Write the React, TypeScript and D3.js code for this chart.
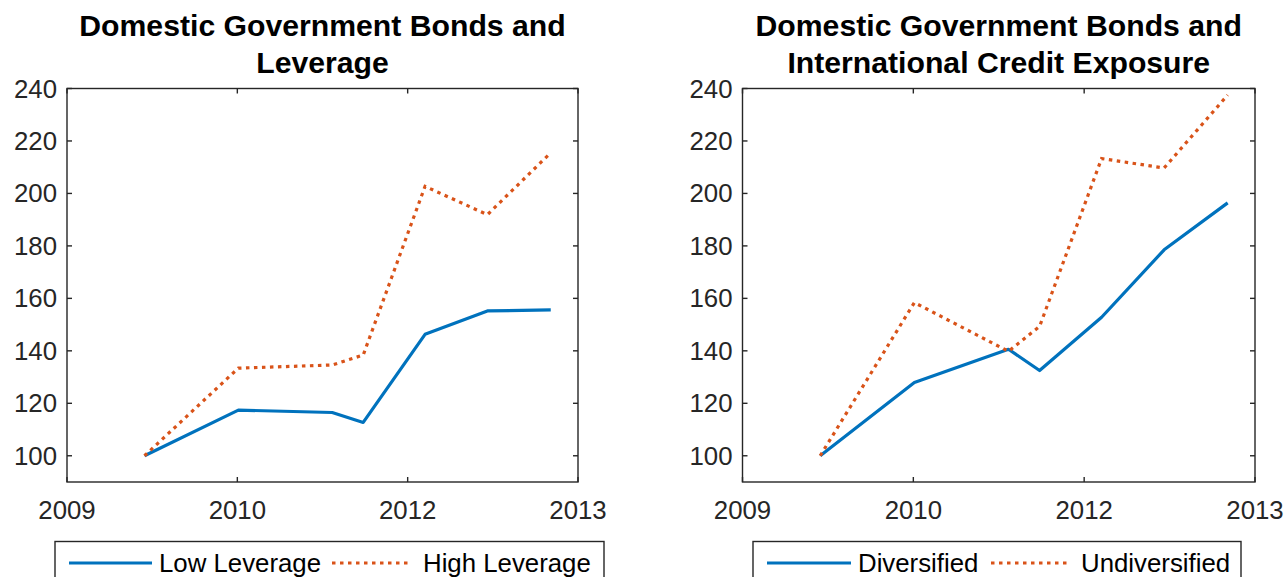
import * as d3 from 'd3';

// x positions of the observations, in axis units (tick 0 = 2009 ... tick 3 = 2013)
const obsX = [0.455, 1.006, 1.557, 1.739, 2.102, 2.468, 2.84];
const xTickValues = [0, 1, 2, 3];
const xTickLabels = ['2009', '2010', '2012', '2013'];
const yTickValues = [100, 120, 140, 160, 180, 200, 220, 240];

const lowLeverage = [100, 117.4, 116.5, 112.7, 146.3, 155.2, 155.6];
const highLeverage = [100, 133.4, 134.6, 138.4, 202.7, 191.9, 215.5];
const diversified = [100, 127.9, 140.6, 132.5, 152.8, 178.5, 196.4];
const undiversified = [100, 158.4, 139.8, 149.3, 213.3, 209.7, 237.5];

const WIDTH = 1285;
const HEIGHT = 577;
const TOP = 88.5;
const BOTTOM = 482;
const AXIS_COLOR = '#262626';
const BLUE = '#0072BD';
const ORANGE = '#D95319';
const FONT = '"Liberation Sans", Arial, Helvetica, sans-serif';

interface LegendLayout {
  box: [number, number];
  line1: [number, number];
  line2: [number, number];
}

interface PanelProps {
  left: number;
  right: number;
  title: string[];
  solid: number[];
  dotted: number[];
  labels: [string, string];
  legend: LegendLayout;
}

function Panel({ left, right, title, solid, dotted, labels, legend }: PanelProps) {
  const x = d3.scaleLinear().domain([0, 3]).range([left, right]);
  const y = d3.scaleLinear().domain([90, 240]).range([BOTTOM, TOP]);
  const line = d3
    .line<number>()
    .x((_, i) => x(obsX[i]))
    .y((d) => y(d));
  const tickLen = 5;
  const cx = (left + right) / 2;

  return (
    <g>
      {/* title */}
      {title.map((t, i) => (
        <text
          key={t}
          x={cx}
          y={36 + i * 37}
          textAnchor="middle"
          fontFamily={FONT}
          fontWeight="bold"
          fontSize={30.2}
          fill="#000"
        >
          {t}
        </text>
      ))}

      {/* data */}
      <path d={line(solid) ?? ''} fill="none" stroke={BLUE} strokeWidth={3.2} strokeLinejoin="round" />
      <path
        d={line(dotted) ?? ''}
        fill="none"
        stroke={ORANGE}
        strokeWidth={3.2}
        strokeDasharray="3.5,4.5"
      />

      {/* box + ticks */}
      <rect
        x={left}
        y={TOP}
        width={right - left}
        height={BOTTOM - TOP}
        fill="none"
        stroke={AXIS_COLOR}
        strokeWidth={1.4}
      />
      {yTickValues.map((v) => (
        <g key={v}>
          <line x1={left} x2={left + tickLen} y1={y(v)} y2={y(v)} stroke={AXIS_COLOR} strokeWidth={1.4} />
          <line x1={right} x2={right - tickLen} y1={y(v)} y2={y(v)} stroke={AXIS_COLOR} strokeWidth={1.4} />
          <text
            x={left - 10}
            y={y(v)}
            dy="0.35em"
            textAnchor="end"
            fontFamily={FONT}
            fontSize={25.8}
            fill={AXIS_COLOR}
          >
            {v}
          </text>
        </g>
      ))}
      {xTickValues.map((v, i) => (
        <g key={v}>
          <line x1={x(v)} x2={x(v)} y1={BOTTOM} y2={BOTTOM - tickLen} stroke={AXIS_COLOR} strokeWidth={1.4} />
          <line x1={x(v)} x2={x(v)} y1={TOP} y2={TOP + tickLen} stroke={AXIS_COLOR} strokeWidth={1.4} />
          <text x={x(v)} y={519} textAnchor="middle" fontFamily={FONT} fontSize={25.8} fill={AXIS_COLOR}>
            {xTickLabels[i]}
          </text>
        </g>
      ))}

      {/* legend */}
      <rect
        x={legend.box[0]}
        y={541.5}
        width={legend.box[1] - legend.box[0]}
        height={60}
        fill="#fff"
        stroke={AXIS_COLOR}
        strokeWidth={1.4}
      />
      <line x1={legend.line1[0]} x2={legend.line1[1]} y1={563} y2={563} stroke={BLUE} strokeWidth={3.2} />
      <text x={legend.line1[1] + 7} y={572} fontFamily={FONT} fontSize={25.8} fill="#000">
        {labels[0]}
      </text>
      <line
        x1={legend.line2[0]}
        x2={legend.line2[1]}
        y1={563}
        y2={563}
        stroke={ORANGE}
        strokeWidth={3.2}
        strokeDasharray="3.5,4.5"
      />
      <text x={legend.line2[1] + 12} y={572} fontFamily={FONT} fontSize={25.8} fill="#000">
        {labels[1]}
      </text>
    </g>
  );
}

export default function App() {
  return (
    <svg
      width={WIDTH}
      height={HEIGHT}
      viewBox={`0 0 ${WIDTH} ${HEIGHT}`}
      style={{ position: 'absolute', left: 0, top: 0, background: '#fff' }}
    >
      <rect width={WIDTH} height={HEIGHT} fill="#fff" />
      <Panel
        left={67}
        right={578}
        title={['Domestic Government Bonds and', 'Leverage']}
        solid={lowLeverage}
        dotted={highLeverage}
        labels={['Low Leverage', 'High Leverage']}
        legend={{ box: [55, 604], line1: [69, 152], line2: [332, 411] }}
      />
      <Panel
        left={742.5}
        right={1255}
        title={['Domestic Government Bonds and', 'International Credit Exposure']}
        solid={diversified}
        dotted={undiversified}
        labels={['Diversified', 'Undiversified']}
        legend={{ box: [753, 1241], line1: [767, 851], line2: [991, 1069] }}
      />
    </svg>
  );
}
